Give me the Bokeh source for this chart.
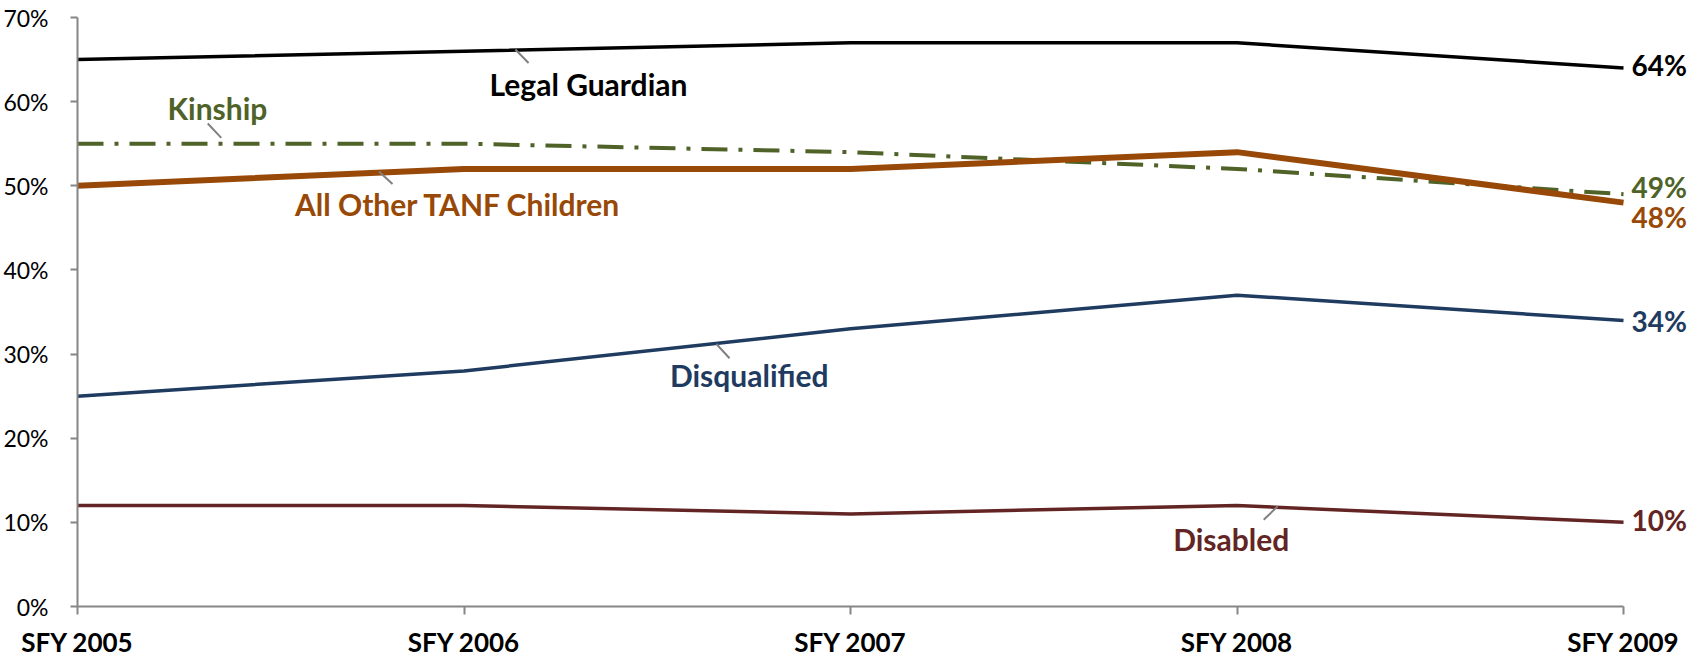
from bokeh.plotting import figure
from bokeh.models import Range1d, FixedTicker, Label
from bokeh.embed import file_html
from bokeh.resources import INLINE

# ---- data ----
categories = ["SFY 2005", "SFY 2006", "SFY 2007", "SFY 2008", "SFY 2009"]
legal_guardian = [65, 66, 67, 67, 64]
kinship = [55, 55, 54, 52, 49]
all_other_tanf = [50, 52, 52, 54, 48]
disqualified = [25, 28, 33, 37, 34]
disabled = [12, 12, 11, 12, 10]
y_ticks = [0, 10, 20, 30, 40, 50, 60, 70]
y_tick_labels = ["0%", "10%", "20%", "30%", "40%", "50%", "60%", "70%"]

x = list(range(len(categories)))
last = len(categories) - 1

C_LEGAL = "#000000"
C_KIN = "#4F6228"
C_TANF = "#984807"
C_DISQ = "#1F3B60"
C_DISA = "#632523"
AXIS_GRAY = "#868686"
FONT = "Lato"

# extra room on the right of the last category for the end-value labels
p = figure(width=1698, height=660, x_range=Range1d(0, last + 0.194),
           y_range=Range1d(0, 70), output_backend="svg", toolbar_location=None,
           min_border_left=77, min_border_right=0, min_border_top=17, min_border_bottom=50)
p.outline_line_color = None
p.grid.visible = False
p.background_fill_color = "white"

# axes
p.xaxis.ticker = FixedTicker(ticks=x)
p.xaxis.bounds = (0, last)
p.xaxis.major_label_overrides = {i: c for i, c in enumerate(categories)}
p.xaxis.major_label_text_font = FONT
p.xaxis.major_label_text_font_style = "bold"
p.xaxis.major_label_text_font_size = "26px"
p.xaxis.major_label_text_color = "#000000"
p.xaxis.major_tick_out = 8
p.xaxis.major_tick_in = 0
p.xaxis.major_label_standoff = 11
p.xaxis.minor_tick_line_color = None

p.yaxis.ticker = FixedTicker(ticks=y_ticks)
p.yaxis.major_label_overrides = {t: l for t, l in zip(y_ticks, y_tick_labels)}
p.yaxis.major_label_text_font = FONT
p.yaxis.major_label_text_font_size = "23px"
p.yaxis.major_label_text_color = "#000000"
p.yaxis.major_tick_out = 7
p.yaxis.major_tick_in = 0
p.yaxis.major_label_standoff = 22
p.yaxis.minor_tick_line_color = None

for ax in (p.xaxis, p.yaxis):
    ax.axis_line_color = AXIS_GRAY
    ax.axis_line_width = 2
    ax.major_tick_line_color = AXIS_GRAY
    ax.major_tick_line_width = 2

# lines
p.line(x, kinship, line_color=C_KIN, line_width=4, line_dash="26 11 4 11")
p.line(x, all_other_tanf, line_color=C_TANF, line_width=6)
p.line(x, legal_guardian, line_color=C_LEGAL, line_width=3.5)
p.line(x, disqualified, line_color=C_DISQ, line_width=3.5)
p.line(x, disabled, line_color=C_DISA, line_width=3.5)

# leader lines (data coords)
p.segment(x0=[1.133, 0.337, 0.780, 1.653, 3.105],
          y0=[66.2, 57.4, 51.7, 31.2, 11.9],
          x1=[1.167, 0.372, 0.815, 1.687, 3.069],
          y1=[64.6, 55.7, 50.2, 29.5, 10.3],
          line_color="#808080", line_width=2)

# series name labels
names = [("Legal Guardian", 1.322, 62.1, C_LEGAL),
         ("Kinship", 0.362, 59.3, C_KIN),
         ("All Other TANF Children", 0.985, 47.8, C_TANF),
         ("Disqualified", 1.738, 27.5, C_DISQ),
         ("Disabled", 2.985, 8.05, C_DISA)]
for txt, lx, ly, col in names:
    p.add_layout(Label(x=lx, y=ly, text=txt, text_align="center", text_baseline="alphabetic",
                       text_font=FONT, text_font_style="bold", text_font_size="30px",
                       text_color=col))

# end value labels
ends = [(legal_guardian, C_LEGAL, 3), (kinship, C_KIN, 7), (all_other_tanf, C_TANF, -14),
        (disqualified, C_DISQ, -1), (disabled, C_DISA, 2)]
for series, col, off in ends:
    p.add_layout(Label(x=last, y=series[-1], x_offset=8, y_offset=off,
                       text=f"{series[-1]}%", text_align="left", text_baseline="middle",
                       text_font=FONT, text_font_style="bold", text_font_size="28px",
                       text_color=col))

open("out.html", "w").write(file_html(p, INLINE))
